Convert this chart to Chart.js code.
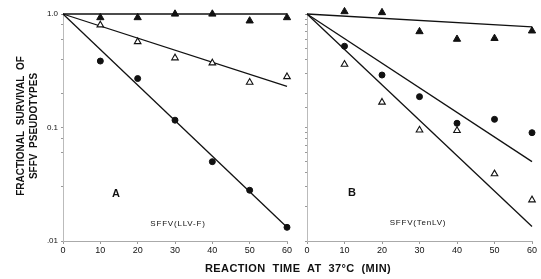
<!DOCTYPE html>
<html><head><meta charset="utf-8">
<script src="https://cdn.jsdelivr.net/npm/chart.js@4.4.1/dist/chart.umd.min.js"></script>
<style>
html,body{margin:0;padding:0;background:#fff;}
#wrap{position:relative;width:541px;height:279px;overflow:hidden;font-family:"Liberation Sans",Arial,sans-serif;color:#111;}
.cv{position:absolute;top:0;}
.t{position:absolute;white-space:nowrap;font-weight:bold;}
</style></head>
<body><div id="wrap">
<div class="cv" style="left:0;width:300px;height:279px"><canvas id="cA"></canvas></div>
<div class="cv" style="left:290px;width:251px;height:279px"><canvas id="cB"></canvas></div>
<div class="t" id="yt1" style="left:20px;top:126px;font-size:10px;letter-spacing:0px;transform:translate(-50%,-50%) rotate(-90deg)">FRACTIONAL&nbsp; SURVIVAL&nbsp; OF</div>
<div class="t" id="yt2" style="left:33px;top:126px;font-size:10px;letter-spacing:0px;transform:translate(-50%,-50%) rotate(-90deg)">SFFV&nbsp; PSEUDOTYPES</div>
<div class="t" style="left:298px;top:268px;font-size:11px;letter-spacing:0.4px;transform:translate(-50%,-50%)">REACTION&nbsp; TIME&nbsp; AT&nbsp; 37°C&nbsp; (MIN)</div>
<div class="t" style="left:116px;top:193px;font-size:11px;transform:translate(-50%,-50%)">A</div>
<div class="t" style="left:352px;top:192px;font-size:11px;transform:translate(-50%,-50%)">B</div>
<div class="t" style="left:178px;top:223px;font-size:8px;font-weight:normal;letter-spacing:0.8px;transform:translate(-50%,-50%)">SFFV(LLV-F)</div>
<div class="t" style="left:418px;top:222px;font-size:8px;font-weight:normal;letter-spacing:0.8px;transform:translate(-50%,-50%)">SFFV(TenLV)</div>
</div>
<script>
const times = [10, 20, 30, 40, 50, 60];
const xTicks = [0, 10, 20, 30, 40, 50, 60];
const yTickLabels = {1: "1.0", 0.1: "0.1", 0.01: ".01"};

// Panel A: SFFV(LLV-F)
const aFilledTri = [0.93, 0.93, 1.0, 1.0, 0.87, 0.93];
const aOpenTri   = [0.80, 0.57, 0.41, 0.37, 0.25, 0.28];
const aCircle    = [0.385, 0.27, 0.116, 0.050, 0.028, 0.0132];
const aFitFilledTri = [1.0, 1.0];
const aFitOpenTri   = [1.0, 0.23];
const aFitCircle    = [1.0, 0.0132];

// Panel B: SFFV(TenLV)
const bFilledTri = [1.05, 1.03, 0.70, 0.60, 0.61, 0.71];
const bCircle    = [0.52, 0.29, 0.187, 0.109, 0.118, 0.090];
const bOpenTri   = [0.36, 0.167, 0.095, 0.094, 0.039, 0.023];
const bFitFilledTri = [1.0, 0.77];
const bFitCircle    = [1.0, 0.050];
const bFitOpenTri   = [1.0, 0.0134];

const fitX = [0, 60];

function pts(xs, ys){ return xs.map((x,i)=>({x:x,y:ys[i]})); }
function marks(data, style){
  const base = {type:'scatter', data:pts(times,data), showLine:false, clip:false, borderColor:'#111', borderWidth:1};
  if(style==='ftri') return Object.assign(base,{pointStyle:'triangle', pointRadius:4.2, backgroundColor:'#111'});
  if(style==='otri') return Object.assign(base,{pointStyle:'triangle', pointRadius:3.8, backgroundColor:'#fff', borderWidth:1.1});
  return Object.assign(base,{pointStyle:'circle', pointRadius:3, backgroundColor:'#111'});
}
function fit(ys){
  return {type:'line', data:pts(fitX,ys), borderColor:'#111', borderWidth:1.3, pointRadius:0, fill:false, clip:false, tension:0};
}

function makeChart(id, sets, yAxisWidth, showYLabels, padRight){
  return new Chart(document.getElementById(id), {
    type:'scatter',
    data:{datasets:sets},
    options:{
      responsive:true, maintainAspectRatio:false, animation:false,
      layout:{padding:{top:14, right:padRight, left:0, bottom:0}},
      plugins:{legend:{display:false}, tooltip:{enabled:false}},
      scales:{
        x:{type:'linear', min:0, max:60,
          afterFit:s=>{s.height=38;},
          afterBuildTicks:s=>{s.ticks = xTicks.map(v=>({value:v}));},
          ticks:{color:'#111', font:{family:'"Liberation Sans", Arial, sans-serif', size:9}, padding:1, maxRotation:0},
          grid:{drawOnChartArea:false, tickLength:3, color:'#999', lineWidth:1},
          border:{display:true, color:'#aaa', width:1, dash:[2,3]}
        },
        y:{type:'logarithmic', min:0.01, max:1,
          afterFit:s=>{s.width=yAxisWidth;},
          ticks:{display:showYLabels, color:'#111', font:{family:'"Liberation Sans", Arial, sans-serif', size:8}, padding:3,
            callback:(v)=> (yTickLabels[v]!==undefined ? yTickLabels[v] : '')},
          grid:{drawOnChartArea:false, tickLength:2, color:'#999', lineWidth:1},
          border:{display:true, color:'#bbb', width:1, dash:[1,4]}
        }
      }
    }
  });
}

makeChart('cA', [
  marks(aFilledTri,'ftri'), marks(aOpenTri,'otri'), marks(aCircle,'circ'),
  fit(aFitFilledTri), fit(aFitOpenTri), fit(aFitCircle)
], 63, true, 13);

makeChart('cB', [
  marks(bFilledTri,'ftri'), marks(bCircle,'circ'), marks(bOpenTri,'otri'),
  fit(bFitFilledTri), fit(bFitCircle), fit(bFitOpenTri)
], 17, false, 9);
</script>
</body></html>
